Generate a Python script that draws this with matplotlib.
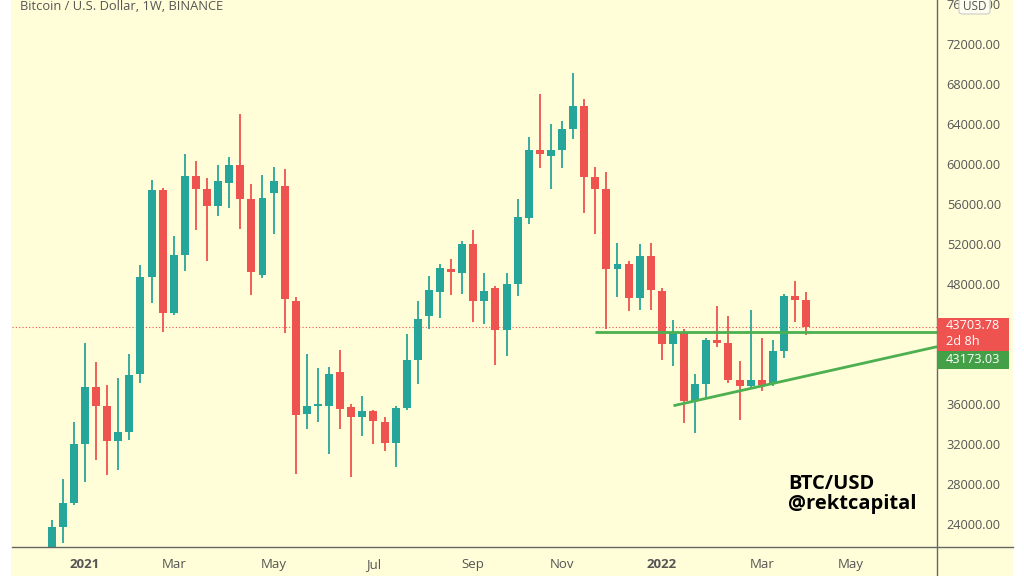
import numpy as np
import pandas as pd
import matplotlib
matplotlib.use("Agg")
import matplotlib.pyplot as plt
from matplotlib.patches import Rectangle, FancyBboxPatch
from matplotlib.lines import Line2D

plt.rcParams['font.family'] = ['Open Sans', 'DejaVu Sans']

# weekly candles, BTC/USD Binance (week starting Monday)
week_start = pd.Timestamp('2020-12-14')
n_weeks = 69
opens = [19200, 23700, 26150, 32050, 37750, 35850, 32350, 33250, 39000, 48750,
         57400, 45150, 50900, 58800, 57550, 55800, 58150, 59900, 56500, 48900,
         57150, 57850, 46300, 35050, 35850, 35850, 39250, 35750, 34750, 35300,
         34250, 32150, 35650, 40400, 44800, 47250, 49500, 49150, 52000, 46350,
         47650, 43450, 48000, 54650, 61400, 60850, 61450, 63550, 65850, 58750,
         57500, 49500, 50000, 46650, 50800, 47350, 42000, 43150, 36350, 38000,
         42400, 42150, 38400, 37850, 38400, 38000, 41350, 46800, 46450]
highs = [24400, 28500, 34200, 42150, 40250, 37950, 38650, 41050, 49900, 58450,
         57650, 52850, 61050, 60350, 58650, 59950, 60750, 65000, 58050, 58950,
         59750, 59550, 46750, 41000, 39650, 39750, 41400, 36000, 36850, 35400,
         34750, 35850, 43000, 46300, 48800, 50000, 50550, 52300, 53400, 49150,
         47800, 49150, 56550, 62750, 67000, 64050, 64350, 69150, 66500, 59750,
         59250, 52150, 50300, 52050, 52150, 47650, 44450, 43550, 39000, 42650,
         45850, 44800, 40300, 45400, 42650, 42450, 47000, 48300, 47250]
lows = [19000, 22100, 25950, 28250, 30400, 28900, 29400, 32400, 38150, 46150,
        43250, 44950, 49350, 53400, 50300, 54850, 55650, 53550, 46900, 48650,
        53050, 43150, 29000, 33550, 34250, 31050, 33550, 28750, 32850, 32050,
        31350, 29750, 35450, 38000, 43500, 44650, 46950, 47050, 44250, 44000,
        39900, 40800, 46850, 54050, 59650, 57550, 59650, 62500, 55150, 53000,
        43550, 46750, 45350, 45400, 45450, 40400, 39800, 34150, 33150, 36550,
        41750, 38150, 34450, 37550, 37300, 37850, 40650, 44250, 42900]
closes = [23700, 26150, 32000, 37750, 35850, 32350, 33250, 38900, 48750, 57400,
          45150, 50900, 58800, 57550, 55800, 58300, 59900, 56550, 49250, 56650,
          58300, 46550, 34900, 35800, 36000, 39000, 35550, 34750, 35300, 34300,
          32150, 35650, 40400, 44550, 47450, 49650, 49250, 52000, 46350, 47350,
          43400, 48000, 54750, 61400, 61050, 61450, 63550, 65850, 58750, 57500,
          49500, 50050, 46650, 50800, 47400, 42000, 43150, 36350, 38000, 42400,
          42150, 38400, 37850, 38400, 37900, 41350, 46850, 46450, 43703.78]

last_price = 43703.78
support_level = 43173.03
support_from_week = 49
trend_weeks = [56.05, 79.8]
trend_prices = [35830, 41730]

tick_dates = ['2021-01-04', '2021-03-01', '2021-05-03', '2021-07-05', '2021-09-06',
              '2021-11-01', '2022-01-03', '2022-03-07', '2022-05-02']
tick_labels = ['2021', 'Mar', 'May', 'Jul', 'Sep', 'Nov', '2022', 'Mar', 'May']
price_ticks = [24000, 28000, 32000, 36000, 48000, 52000, 56000, 60000,
               64000, 68000, 72000, 76000]

up_col = '#26a69a'
down_col = '#ef5350'
bg = '#fffed9'
line_green = '#4caf50'
txt_col = '#555555'

W, H = 1024, 576
fig = plt.figure(figsize=(W / 100, H / 100), dpi=100)
fig.patch.set_facecolor('white')
fig.patches.append(Rectangle((11 / W, 0), 1002 / W, 1, transform=fig.transFigure,
                             facecolor=bg, edgecolor='none', zorder=-10))

ax = fig.add_axes([12 / W, 29 / H, 925 / W, 547 / H])
ax.set_facecolor('none')
ax.set_zorder(1)

o = np.array(opens); h = np.array(highs); l = np.array(lows); c = np.array(closes)
x = np.arange(n_weeks)
cols = np.where(c >= o, up_col, down_col)
ax.vlines(x, l, h, colors=cols, linewidth=1.3, zorder=2)
body_lo = np.minimum(o, c)
body_h = np.maximum(np.abs(c - o), 120)
ax.bar(x, body_h, bottom=body_lo, width=0.72, color=cols, edgecolor='none', zorder=3)

# last price and drawn lines
ax.axhline(last_price, color=down_col, linestyle=(0, (1, 2)), linewidth=0.8, zorder=1)
ax.plot([support_from_week, 79.8], [support_level, support_level], color=line_green,
        linewidth=2, zorder=4, solid_capstyle='butt')
ax.plot(trend_weeks, trend_prices, color=line_green, linewidth=2, zorder=4,
        solid_capstyle='butt')

ax.set_xlim(-3.58, 79.8)
ax.set_ylim(21700, 76400)

tick_pos = [(pd.Timestamp(d) - week_start).days / 7 for d in tick_dates]
ax.set_xticks(tick_pos)
ax.set_xticklabels(tick_labels, fontsize=9.5, color=txt_col)
for lbl in ax.get_xticklabels():
    if lbl.get_text().isdigit():
        lbl.set_fontweight('bold')
ax.tick_params(axis='x', length=0, pad=8)

ax.yaxis.tick_right()
ax.set_yticks(price_ticks)
ax.set_yticklabels(['%.2f' % p for p in price_ticks], fontsize=9.2, color=txt_col)
ax.tick_params(axis='y', length=0, pad=7)
for s in ax.spines.values():
    s.set_visible(False)

# axis lines like the trading view frame
fig.lines.append(Line2D([12 / W, 1013 / W], [29 / H, 29 / H], transform=fig.transFigure,
                        color='#666666', linewidth=1))
fig.lines.append(Line2D([937 / W, 937 / W], [0, 1], transform=fig.transFigure,
                        color='#666666', linewidth=1))

# price labels on the scale
fig.canvas.draw()
def py(v):
    return ax.transData.transform((0, v))[1]
y_last = py(last_price)
fig.patches.append(Rectangle((937, y_last - 24), 72, 33, transform=None,
                             facecolor=down_col, edgecolor='none', zorder=5))
fig.patches.append(Rectangle((937, y_last - 42), 72, 18, transform=None,
                             facecolor='#43a047', edgecolor='none', zorder=5))
fig.text(946 / W, (y_last + 1) / H, '%.2f' % last_price, color='white', fontsize=9.2,
         va='center', ha='left', zorder=6)
fig.text(946 / W, (y_last - 15) / H, '2d 8h', color='white', fontsize=9.2,
         va='center', ha='left', zorder=6)
fig.text(946 / W, (y_last - 33) / H, '%.2f' % support_level, color='white', fontsize=9.2,
         va='center', ha='left', zorder=6)

# currency box
fig.patches.append(FancyBboxPatch((959 / W, 1 - 14 / H), 31 / W, 16 / H,
                                  boxstyle='round,pad=0,rounding_size=0.004',
                                  transform=fig.transFigure, facecolor='#fdfdf0',
                                  edgecolor='#cccccc', linewidth=0.8, zorder=5))
fig.text(974.5 / W, 1 - 6 / H, 'USD', color=txt_col, fontsize=8.5, ha='center',
         va='center', zorder=6)

fig.text(20 / W, 1 - 7 / H, 'Bitcoin / U.S. Dollar, 1W, BINANCE', color=txt_col,
         fontsize=9.3, va='center', ha='left')
fig.text(788 / W, 1 - 494 / H, 'BTC/USD\n@rektcapital', color='black', fontsize=14.5,
         fontweight='bold', va='center', ha='left', linespacing=1.0)

fig.savefig('out.png', dpi=100, facecolor=fig.get_facecolor())
